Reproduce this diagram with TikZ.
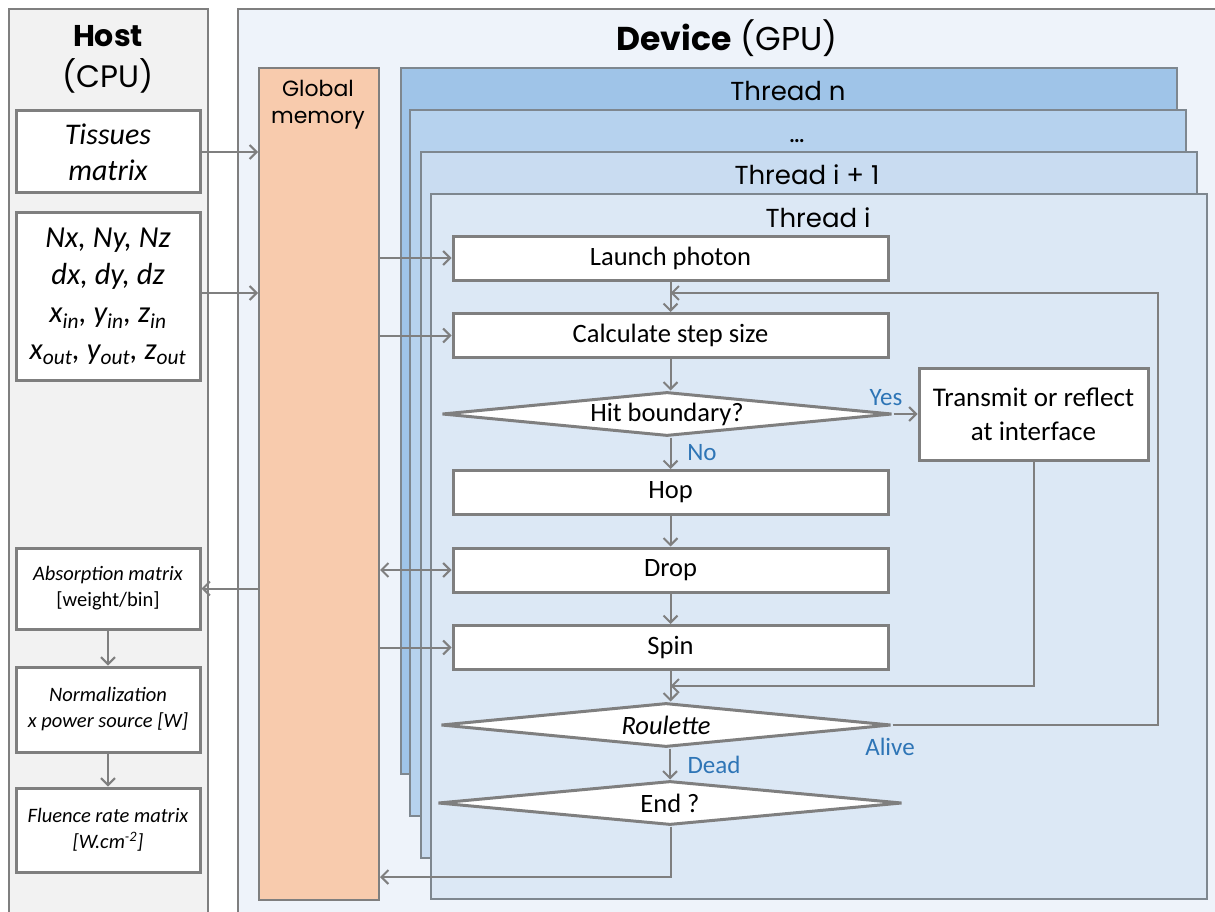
\documentclass[tikz,border=0pt]{standalone}
\usepackage{fontspec}
\setmainfont{Carlito}
\newfontfamily\gothic{Poppins}
\usetikzlibrary{arrows.meta,shapes.geometric,calc}
\definecolor{hostfill}{HTML}{F2F2F2}
\definecolor{devfill}{HTML}{EEF3FA}
\definecolor{gmfill}{HTML}{F8CBAD}
\definecolor{thn}{HTML}{9FC4E8}
\definecolor{thd}{HTML}{B6D2EE}
\definecolor{thb}{HTML}{C9DCF1}
\definecolor{tha}{HTML}{DCE8F5}
\definecolor{edge}{HTML}{7F7F7F}
\definecolor{tedge}{HTML}{7E878F}
\definecolor{lblue}{HTML}{2E75B6}
\tikzset{
  panel/.style={draw=edge, line width=1.6pt, anchor=north west, inner sep=0pt},
  thr/.style={draw=tedge, line width=2pt, anchor=north west, inner sep=0pt, minimum width=776pt, minimum height=706pt},
  hbox/.style={draw=edge, line width=3pt, fill=white, inner sep=0pt, minimum width=184pt, align=center},
  fbox/.style={draw=edge, line width=3pt, fill=white, inner sep=0pt, minimum width=435pt, minimum height=44pt, font=\fontsize{26.5}{30}\selectfont},
  dia/.style={diamond, draw=edge, line width=3pt, fill=white, inner sep=0pt, aspect=10.2, minimum width=450pt, minimum height=44pt, font=\fontsize{26.5}{30}\selectfont},
  arr/.style={draw=edge, line width=2pt, -{Straight Barb[length=7pt,width=14pt]}},
  darr/.style={draw=edge, line width=2pt, {Straight Barb[length=7pt,width=14pt]}-{Straight Barb[length=7pt,width=14pt]}},
  yn/.style={text=lblue, font=\fontsize{25}{30}\selectfont, inner sep=0pt},
  ttl/.style={font=\gothic\fontsize{31}{36}\selectfont, inner sep=0pt, anchor=base},
  thl/.style={font=\gothic\fontsize{26}{30}\selectfont, inner sep=0pt, anchor=base},
}
\begin{document}
\begin{tikzpicture}[x=1pt,y=-1pt]
\useasboundingbox (0,0) rectangle (1215,912);
\clip (0,0) rectangle (1215,912);
\fill[white] (0,0) rectangle (1215,912);
% panels
\node[panel, fill=hostfill, minimum width=199pt, minimum height=930pt] (hostp) at (8,8) {};
\node[panel, fill=devfill, minimum width=1000pt, minimum height=930pt] (devp) at (237,8) {};
\node[ttl, font=\gothic\bfseries\fontsize{30}{34}\selectfont] (hostt) at (108,47) {Host};
\node[ttl] (cpu) at (108,88) {(CPU)};
\node[ttl, font=\gothic\fontsize{33}{38}\selectfont] (devt) at (727,51) {\textbf{Device} (GPU)};
% global memory
\node[panel, fill=gmfill, line width=2pt, minimum width=120pt, minimum height=832pt] (gm) at (258,67) {};
\node[font=\gothic\fontsize{22}{27}\selectfont, align=center, anchor=north, inner sep=0pt] (gmt) at (318,80) {Global\\memory};
% threads
\node[thr, fill=thn] (tn) at (400,67) {};
\node[thr, fill=thd] (td) at (409,109) {};
\node[thr, fill=thb] (tb) at (420,151) {};
\node[thr, fill=tha, minimum height=705pt] (ta) at (430,193) {};
\node[thl] (tnl) at (788,101) {Thread n};
\node[thl] (tdl) at (797,143) {\dots};
\node[thl] (tbl) at (807,185) {Thread i + 1};
\node[thl] (tal) at (818,227) {Thread i};
% host boxes
\node[hbox, minimum height=82pt, font=\itshape\fontsize{30}{36}\selectfont] (tis) at (108,152) {Tissues\\matrix};
\node[hbox, minimum height=167pt, font=\itshape\fontsize{30.5}{37.5}\selectfont] (par) at (108,296.5) {Nx, Ny, Nz\\dx, dy, dz\\x\textsubscript{in}, y\textsubscript{in}, z\textsubscript{in}\\x\textsubscript{out}, y\textsubscript{out}, z\textsubscript{out}};
\node[hbox, minimum height=81pt, font=\fontsize{20.5}{26}\selectfont] (abs) at (108,588.5) {\textit{Absorption matrix}\\{}[weight/bin]};
\node[hbox, minimum height=85pt, font=\itshape\fontsize{20.5}{26}\selectfont] (nor) at (108,709.5) {Normalization\\x power source [W]};
\node[hbox, minimum height=84pt, font=\itshape\fontsize{20.5}{26}\selectfont] (flu) at (108,830) {Fluence rate matrix\\{}[W.cm\textsuperscript{-2}]};
% flowchart
\node[fbox] (launch) at (670.5,258) {Launch photon};
\node[fbox] (calc) at (670.5,335.5) {Calculate step size};
\node[dia] (hit) at (667,414) {Hit boundary?};
\node[fbox, minimum width=229pt, minimum height=92pt, align=center, font=\fontsize{27}{34}\selectfont] (trans) at (1033.5,414) {Transmit or reflect\\at interface};
\node[fbox] (hop) at (670.5,492.5) {Hop};
\node[fbox] (drop) at (670.5,570) {Drop};
\node[fbox] (spin) at (670.5,647.5) {Spin};
\node[dia] (roul) at (666,725) {\itshape Roulette};
\node[dia, minimum width=464pt, aspect=10.5] (endq) at (670,803) {End ?};
% coordinates
\coordinate (j1) at (670.5,293);
\coordinate (j2) at (670.5,686);
\coordinate (loopR) at (1158,725);
\coordinate (endB) at (670.5,877);
% host connectors
\draw[arr] (tis.east) -- (gm.west |- tis.east);
\draw[arr] (par.east |- 0,293) -- (gm.west |- 0,293);
\draw[arr] (gm.west |- abs.east) -- (abs.east);
\draw[arr] (abs.south) -- (nor.north);
\draw[arr] (nor.south) -- (flu.north);
% gm to thread
\draw[arr] (gm.east |- launch.west) -- (launch.west);
\draw[arr] (gm.east |- calc.west) -- (calc.west);
\draw[darr] (gm.east |- drop.west) -- (drop.west);
\draw[arr] (gm.east |- spin.west) -- (spin.west);
% flow
\draw[arr] (launch.south) -- (calc.north);
\draw[arr] (calc.south) -- (calc.south |- hit.north);
\draw[arr] (hit.east) -- (trans.west);
\draw[arr] (hit.south -| hop.north) -- (hop.north);
\draw[arr] (hop.south) -- (drop.north);
\draw[arr] (drop.south) -- (spin.north);
\draw[arr] (spin.south) -- (spin.south |- roul.north);
\draw[arr] (roul.south -| endq.north) -- (endq.north);
\draw[arr] (roul.east) -- (loopR) |- (j1);
\draw[arr] (trans.south) |- (j2);
\draw[arr] (endq.south -| endB) -- (endB) -- (gm.east |- endB);
% labels
\node[yn] (yes) at (886,398) {Yes};
\node[yn] (no) at (702,453) {No};
\node[yn] (alive) at (890,747) {Alive};
\node[yn] (dead) at (714,765) {Dead};
\end{tikzpicture}
\end{document}
